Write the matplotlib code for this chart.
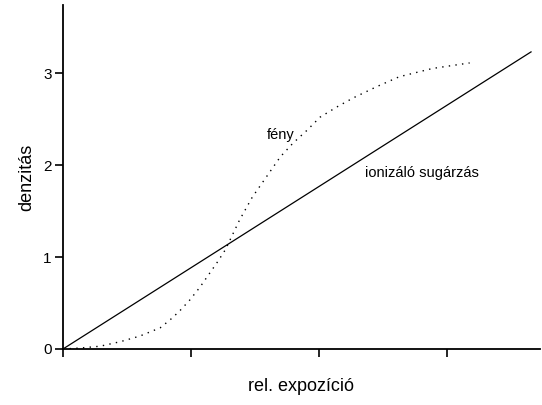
import numpy as np
import matplotlib.pyplot as plt

plt.rcParams['font.family'] = ['Liberation Sans', 'DejaVu Sans']

# fény (light) - dotted characteristic curve
feny_x = [0.0, 0.13, 0.29, 0.45, 0.60, 0.76, 0.84, 0.91, 0.99, 1.07, 1.15, 1.21, 1.27, 1.38,
          1.48, 1.59, 1.70, 1.80, 1.91, 2.01, 2.14, 2.27, 2.45, 2.63, 2.89, 3.18]
feny_y = [0.0, 0.01, 0.03, 0.08, 0.14, 0.23, 0.32, 0.41, 0.53, 0.67, 0.83, 0.95, 1.08, 1.40,
          1.65, 1.87, 2.09, 2.24, 2.38, 2.52, 2.63, 2.73, 2.85, 2.96, 3.05, 3.11]

# ionizáló sugárzás - straight line
ion_x = [0.0, 3.66]
ion_y = [0.0, 3.23]

y_ticks = [0, 1, 2, 3]
x_ticks = [0, 1, 2, 3]

fig = plt.figure(figsize=(5.42, 4.05), dpi=100)
ax = fig.add_axes([0.1162, 0.1383, 0.8801, 0.8494])

ax.plot(ion_x, ion_y, color='black', lw=0.9)
ax.plot(feny_x, feny_y, color='black', lw=1.0, linestyle=(0, (1, 3.8)))

ax.text(1.70, 2.33, 'fény', fontsize=10.5, ha='center', va='center')
ax.text(2.81, 1.91, 'ionizáló sugárzás', fontsize=10.5, ha='center', va='center')

ax.set_xlim(0, 3.73)
ax.set_ylim(0, 3.74)
ax.set_xticks(x_ticks)
ax.set_xticklabels([])
ax.set_yticks(y_ticks)
ax.tick_params(direction='out', length=6, width=1.2, labelsize=11, pad=2)

for s in ['top', 'right']:
    ax.spines[s].set_visible(False)
for s in ['left', 'bottom']:
    ax.spines[s].set_linewidth(1.3)

ax.set_xlabel('rel. expozíció', fontsize=13, labelpad=13)
ax.set_ylabel('denzitás', fontsize=13, labelpad=6)

fig.savefig('out.png', dpi=100)
